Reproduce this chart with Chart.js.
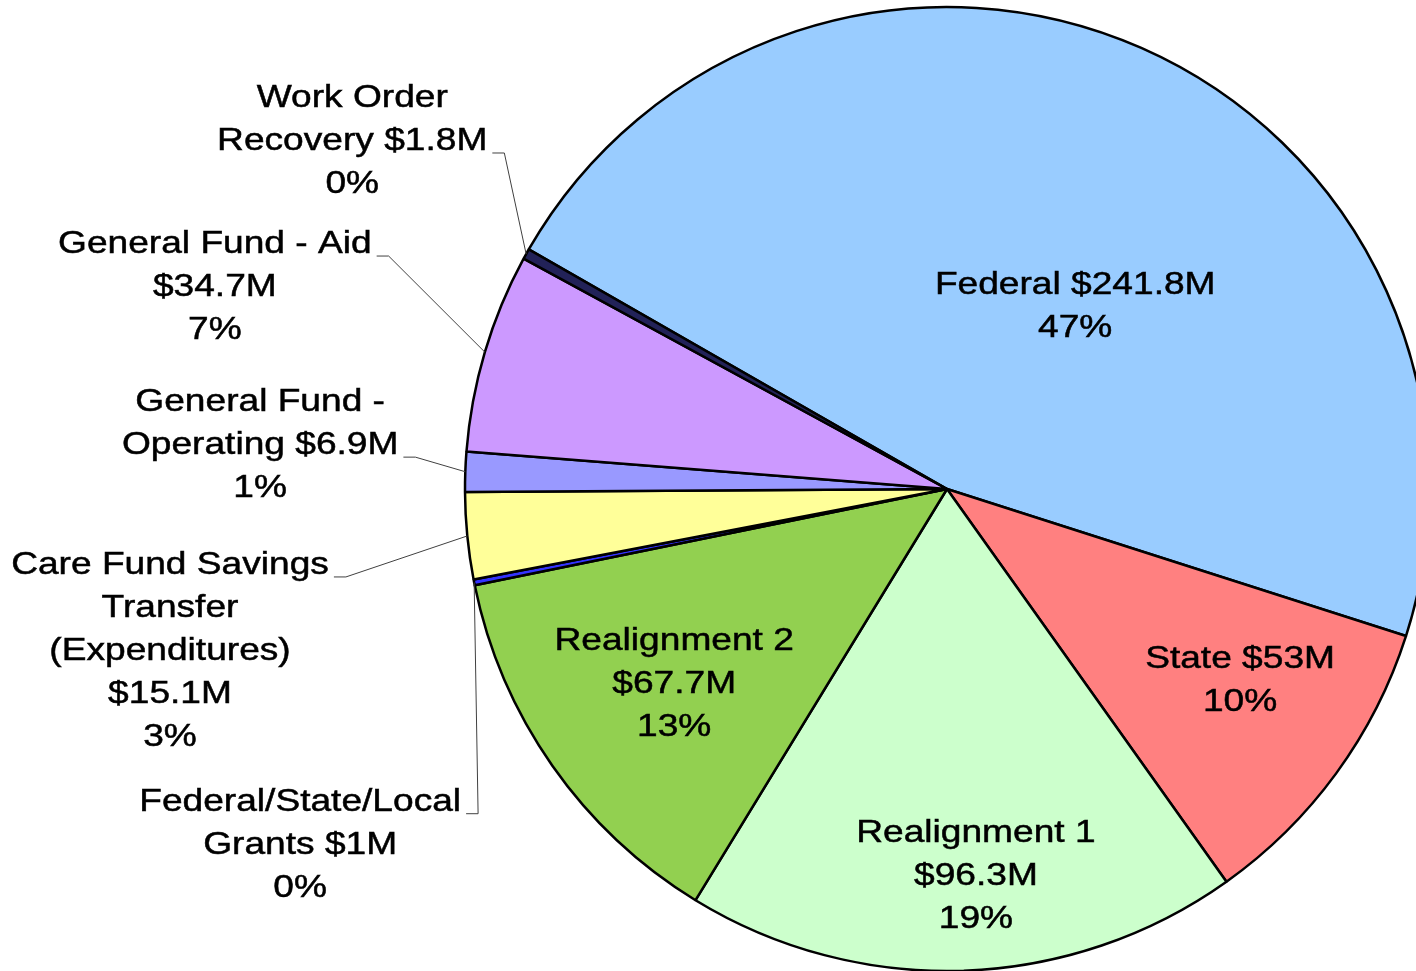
<!DOCTYPE html>
<html>
<head>
<meta charset="utf-8">
<script src="https://cdn.jsdelivr.net/npm/chart.js@4.4.0/dist/chart.umd.min.js"></script>
<style>
html, body { margin:0; padding:0; background:#fff; overflow:hidden; }
#chart { display:block; }
</style>
</head>
<body>
<canvas id="chart" width="1416" height="971"></canvas>
<script>
// Funding sources, clockwise starting from Federal
const categories = ['Federal', 'State', 'Realignment 1', 'Realignment 2', 'Federal/State/Local Grants',
  'Care Fund Savings Transfer (Expenditures)', 'General Fund - Operating', 'General Fund - Aid', 'Work Order Recovery'];
const amounts = [241.8, 53, 96.3, 67.7, 1, 15.1, 6.9, 34.7, 1.8];
const sliceColors = ['#99CCFF', '#FF8080', '#CCFFCC', '#92D050', '#3333FF', '#FFFF99', '#9999FF', '#CC99FF', '#222258'];

// label text, {v} = amount, {p} = percent
const labelFormats = [
  'Federal {v}\n{p}',
  'State {v}\n{p}',
  'Realignment 1\n{v}\n{p}',
  'Realignment 2\n{v}\n{p}',
  'Federal/State/Local\nGrants {v}\n{p}',
  'Care Fund Savings\nTransfer\n(Expenditures)\n{v}\n{p}',
  'General Fund -\nOperating {v}\n{p}',
  'General Fund - Aid\n{v}\n{p}',
  'Work Order\nRecovery {v}\n{p}'
];
// label centres in pie radii from the pie centre
const labelOffsets = [[0.266, -0.378], [0.608, 0.398], [0.060, 0.803], [-0.566, 0.404],
  [-1.342, 0.738], [-1.612, 0.336], [-1.425, -0.091], [-1.519, -0.419], [-1.234, -0.722]];
// text line a leader line attaches to (null = label sits inside the slice)
const leaderLine = [null, null, null, null, 0, 0, 1, 0, 1];

const total = amounts.reduce((a, b) => a + b, 0);
const FONT = '32px "Liberation Sans", Arial, sans-serif';
const STRETCH = 1.16;
const LINE_H = 43;

const labelPlugin = {
  id: 'sliceLabels',
  afterDatasetsDraw(chart) {
    const ctx = chart.ctx;
    const meta = chart.getDatasetMeta(0);
    ctx.save();
    ctx.font = FONT;
    ctx.fillStyle = '#000';
    ctx.strokeStyle = '#000';
    ctx.textAlign = 'center';
    ctx.textBaseline = 'middle';
    meta.data.forEach((arc, i) => {
      const p = arc.getProps(['x', 'y', 'outerRadius', 'startAngle', 'endAngle'], true);
      const pct = Math.round(amounts[i] / total * 100) + '%';
      const lines = labelFormats[i].replace('{v}', '$' + amounts[i] + 'M').replace('{p}', pct).split('\n');
      const cx = p.x + labelOffsets[i][0] * p.outerRadius;
      const cy = p.y + labelOffsets[i][1] * p.outerRadius;
      const top = cy - (lines.length - 1) * LINE_H / 2;
      lines.forEach((t, j) => {
        ctx.save();
        ctx.translate(cx, top + j * LINE_H);
        ctx.scale(STRETCH, 1);
        ctx.lineWidth = 0.5;
        ctx.fillText(t, 0, 0);
        ctx.strokeText(t, 0, 0);
        ctx.restore();
      });
      if (leaderLine[i] !== null) {
        const j = leaderLine[i];
        const w = ctx.measureText(lines[j]).width * STRETCH;
        const lx = cx + w / 2 + 5;
        const ly = top + j * LINE_H + 12;
        const mid = (p.startAngle + p.endAngle) / 2;
        ctx.beginPath();
        ctx.moveTo(lx, ly);
        ctx.lineTo(lx + 12, ly);
        ctx.lineTo(p.x + Math.cos(mid) * p.outerRadius, p.y + Math.sin(mid) * p.outerRadius);
        ctx.strokeStyle = '#404040';
        ctx.lineWidth = 1;
        ctx.stroke();
        ctx.strokeStyle = '#000';
      }
    });
    ctx.restore();
  }
};

new Chart(document.getElementById('chart'), {
  type: 'pie',
  data: {
    labels: categories,
    datasets: [{
      data: amounts,
      backgroundColor: sliceColors,
      borderColor: '#000',
      borderWidth: 2.5,
      radius: 482
    }]
  },
  options: {
    responsive: false,
    animation: false,
    devicePixelRatio: 1,
    rotation: -60.2,
    layout: { padding: { left: 478, right: 0, top: 7, bottom: 0 } },
    plugins: { legend: { display: false }, tooltip: { enabled: false } }
  },
  plugins: [labelPlugin]
});
</script>
</body>
</html>
